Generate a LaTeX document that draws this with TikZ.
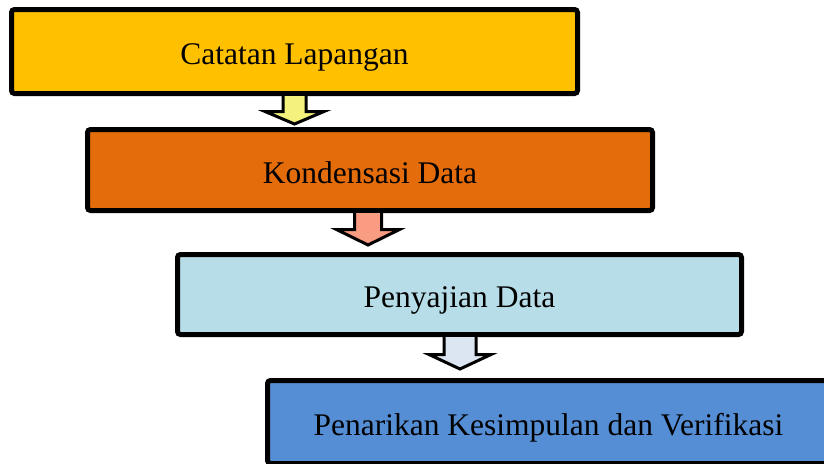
\documentclass[tikz,border=0pt]{standalone}
\usepackage{fontspec}
\setmainfont{Liberation Serif}
\usepackage{xcolor}
\usetikzlibrary{calc}

\definecolor{catatanfill}{HTML}{FFC000}
\definecolor{kondensasifill}{HTML}{E46C0A}
\definecolor{penyajianfill}{HTML}{B7DEE8}
\definecolor{penarikanfill}{HTML}{558ED5}
\definecolor{arrowyellow}{HTML}{F4F27C}
\definecolor{arrowsalmon}{HTML}{F99C82}
\definecolor{arrowblue}{HTML}{DCE6F2}

\begin{document}
\begin{tikzpicture}[x=1pt, y=-1pt]
    % Styles
    \tikzstyle{box} = [rectangle, draw, line width=5pt, rounded corners=3pt, inner sep=0pt, align=center, text height=26pt, text depth=0pt, font=\fontsize{31.5}{36}\selectfont]
    \tikzstyle{blockarrow} = [draw, line width=3pt, line join=miter]

    \useasboundingbox (0,0) rectangle (824,463);
    \clip (0,0) rectangle (824,463);

    % Nodes
    \node[box, fill=catatanfill, minimum width=566pt, minimum height=84pt] (catatan) at (294.5,51.5) {Catatan Lapangan};
    \node[box, fill=kondensasifill, minimum width=565pt, minimum height=81pt] (kondensasi) at (370,170) {Kondensasi Data};
    \node[box, fill=penyajianfill, minimum width=564pt, minimum height=80pt] (penyajian) at (459.5,294.5) {Penyajian Data};
    \node[box, fill=penarikanfill, minimum width=562pt, minimum height=83pt] (penarikan) at (548.5,422) {Penarikan Kesimpulan dan Verifikasi};

    % Arrows
    \draw[blockarrow, fill=arrowyellow] ($(catatan.south)+(-11.5,0)$) -- ++(0,15.5) -- ($(catatan.south)+(-29.5,15.5)$)
        -- ($(catatan.south)+(0,28)$) -- ($(catatan.south)+(29.5,15.5)$) -- ($(catatan.south)+(11.5,15.5)$) -- ($(catatan.south)+(11.5,0)$);
    \draw[blockarrow, fill=arrowsalmon] ($(kondensasi.south)+(-15.5,0)$) -- ++(0,16.5) -- ($(kondensasi.south)+(-33.5,16.5)$)
        -- ($(kondensasi.south)+(-2,32)$) -- ($(kondensasi.south)+(29.5,16.5)$) -- ($(kondensasi.south)+(11.5,16.5)$) -- ($(kondensasi.south)+(11.5,0)$);
    \draw[blockarrow, fill=arrowblue] ($(penyajian.south)+(-15.5,0)$) -- ++(0,17.5) -- ($(penyajian.south)+(-30.5,17.5)$)
        -- ($(penyajian.south)+(0.5,32)$) -- ($(penyajian.south)+(31.5,17.5)$) -- ($(penyajian.south)+(16.5,17.5)$) -- ($(penyajian.south)+(16.5,0)$);

\end{tikzpicture}
\end{document}
